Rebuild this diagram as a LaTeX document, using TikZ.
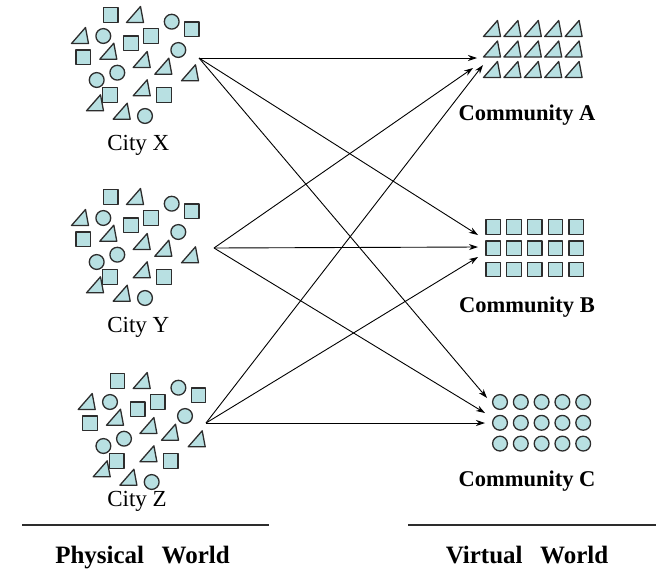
\documentclass[tikz,border=0pt]{standalone}
\usepackage{fontspec}
\setmainfont{Liberation Serif}
\usetikzlibrary{arrows.meta}
\definecolor{shfill}{RGB}{184,224,226}
\definecolor{shdraw}{RGB}{45,45,45}
\tikzset{
  shp/.style={draw=shdraw,fill=shfill,line width=1.3pt,line join=round},
  link/.style={draw=black,line width=0.9pt,-{Stealth[length=9pt,width=6pt]}},
  citylbl/.style={font=\fontsize{23}{26}\selectfont,anchor=base},
  comlbl/.style={font=\fontsize{22.5}{26}\selectfont\bfseries,anchor=base},
  worldlbl/.style={font=\fontsize{25}{28}\selectfont\bfseries,anchor=base},
  rule/.style={draw=shdraw,line width=1.3pt}
}
\newcommand\mytri[1]{\draw[shp] (#1) +(-8.5,7.5) -- +(8.5,7.5) -- +(5.5,-8.5) -- cycle;}
\newcommand\mysq[1]{\draw[shp] (#1) +(-7.2,-7.2) rectangle +(7.2,7.2);}
\newcommand\mycirc[1]{\draw[shp] (#1) circle (7.4);}
\newcommand\citypattern{%
  \mysq{110.7,15} \mytri{135,15} \mycirc{171.7,21.7} \mysq{191.7,29.3}
  \mytri{80,36} \mycirc{103.3,36} \mysq{131,43.3} \mysq{151,36}
  \mytri{108.3,51.7} \mysq{83.3,57.3} \mycirc{178.3,50} \mytri{141.7,60}
  \mytri{163.3,66.7} \mytri{190,73.3} \mycirc{117.3,72.7} \mycirc{96.7,80}
  \mysq{110,95} \mytri{141.7,88.3} \mysq{164,95} \mytri{95,103.3}
  \mytri{121.7,111.7} \mycirc{145,116}}
\begin{document}
\begin{tikzpicture}[x=1pt,y=-1pt]
\useasboundingbox (0,0) rectangle (660,568);
% cities
\citypattern
\begin{scope}[shift={(0,182)}]\citypattern\end{scope}
\begin{scope}[shift={(6.7,366)}]\citypattern\end{scope}
\node[citylbl] (cx) at (138.3,150) {City X};
\node[citylbl] (cy) at (138.3,332) {City Y};
\node[citylbl] (cz) at (137,506.5) {City Z};
% communities
\foreach \i in {0,...,4}{\foreach \j in {0,...,2}{
  \mytri{492+20.4*\i,29+20.5*\j}
  \mysq{493.3+20.7*\i,227+21.3*\j}
  \mycirc{500+20.8*\i,402+20.8*\j}
}}
\node[comlbl] (ca) at (527,120.7) {Community A};
\node[comlbl] (cb) at (527,312.7) {Community B};
\node[comlbl] (cc) at (527,486) {Community C};
% connector ends
\coordinate (xo) at (199,58);
\coordinate (yo) at (214,248);
\coordinate (zo) at (206,423);
\coordinate (xa) at (477,58);
\coordinate (ya) at (473,68);
\coordinate (za) at (483,65);
\coordinate (xb) at (478,235);
\coordinate (yb) at (478,247);
\coordinate (zb) at (478,257);
\coordinate (xc) at (487,398);
\coordinate (yc) at (485,413);
\coordinate (zc) at (485,423);
\draw[link] (xo) -- (xa);
\draw[link] (xo) -- (xb);
\draw[link] (xo) -- (xc);
\draw[link] (yo) -- (ya);
\draw[link] (yo) -- (yb);
\draw[link] (yo) -- (yc);
\draw[link] (zo) -- (za);
\draw[link] (zo) -- (zb);
\draw[link] (zo) -- (zc);
% bottom
\coordinate (pl) at (22,525);
\coordinate (pr) at (269,525);
\coordinate (vl) at (408,525);
\coordinate (vr) at (656,525);
\draw[rule] (pl) -- (pr);
\draw[rule] (vl) -- (vr);
\node[worldlbl] (pw) at (142.5,563) {Physical\hspace{0.45em} World};
\node[worldlbl] (vw) at (527,563) {Virtual\hspace{0.45em} World};
\end{tikzpicture}
\end{document}
